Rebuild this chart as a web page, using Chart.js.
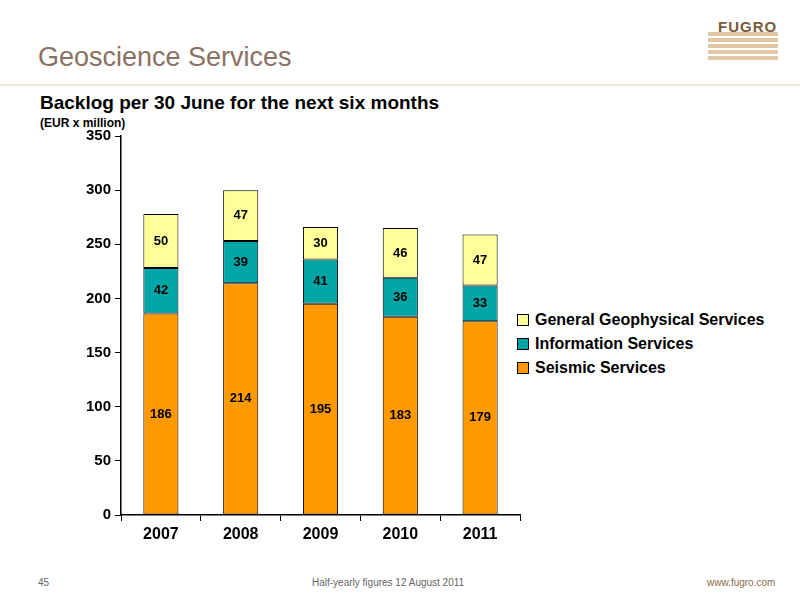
<!DOCTYPE html>
<html><head><meta charset="utf-8">
<script src="https://cdn.jsdelivr.net/npm/chart.js"></script>
<style>
body{margin:0;width:800px;height:600px;background:#fff;font-family:"Liberation Sans",Arial,sans-serif;position:relative;overflow:hidden}
.a{position:absolute;white-space:nowrap}
#c{position:absolute;left:0;top:0}
.lg{position:absolute;left:517px;font-weight:bold;font-size:16px;color:#000}
.lg span{display:inline-block;width:10px;height:10px;border:1px solid #000;margin-right:6px;vertical-align:-1px}
</style></head><body>
<div class="a" style="left:38px;top:42px;font-size:27px;color:#8a7262">Geoscience Services</div>
<div class="a" style="left:0;top:84px;width:800px;height:2px;background:#f1e8dc"></div>
<div class="a" style="left:708px;top:32px;width:70px;height:30px;background:repeating-linear-gradient(#e2c9a6 0 4px,#fff 4px 6px)"></div>
<div class="a" style="left:718px;top:18px;font-size:15px;font-weight:bold;color:#7a5a3a;letter-spacing:1px">FUGRO</div>
<div class="a" style="left:40px;top:92px;font-size:19px;font-weight:bold">Backlog per 30 June for the next six months</div>
<div class="a" style="left:40px;top:116px;font-size:12px;font-weight:bold">(EUR x million)</div>
<div class="lg" style="top:311px"><span style="background:#ffff99"></span>General Geophysical Services</div>
<div class="lg" style="top:335px"><span style="background:#00a6a6"></span>Information Services</div>
<div class="lg" style="top:359px"><span style="background:#ff9900"></span>Seismic Services</div>
<div class="a" style="left:38px;top:577px;font-size:10px;color:#666">45</div>
<div class="a" style="left:312px;top:577px;font-size:10px;color:#666">Half-yearly figures 12 August 2011</div>
<div class="a" style="left:707px;top:577px;font-size:10px;color:#8a6a4a">www.fugro.com</div>
<canvas id="c" width="800" height="600"></canvas>
<script>
const years=['2007','2008','2009','2010','2011'];
const seismic=[186,214,195,183,179];
const info=[42,39,41,36,33];
const general=[50,47,30,46,47];
const lbl={id:'lbl',afterDatasetsDraw(ch){const x=ch.ctx;x.save();x.font='bold 13px "Liberation Sans",Arial';x.fillStyle='#000';x.textAlign='center';x.textBaseline='middle';
ch.data.datasets.forEach((d,i)=>ch.getDatasetMeta(i).data.forEach((b,j)=>{x.fillText(d.data[j],b.x,(b.y+b.base)/2);}));x.restore();}};
const ds=(l,d,c)=>({label:l,data:d,backgroundColor:c,borderColor:'#000',borderWidth:1,borderSkipped:false,barPercentage:0.44,categoryPercentage:1});
new Chart(document.getElementById('c'),{type:'bar',
data:{labels:years,datasets:[ds('Seismic Services',seismic,'#ff9900'),ds('Information Services',info,'#00a6a6'),ds('General Geophysical Services',general,'#ffff99')]},
plugins:[lbl],
options:{responsive:false,animation:false,layout:{padding:{left:0,top:136,right:280,bottom:0}},
plugins:{legend:{display:false},tooltip:{enabled:false}},
scales:{x:{stacked:true,offset:true,afterFit:s=>{s.height=85},grid:{offset:true,drawOnChartArea:false,color:'#000',tickLength:6},border:{color:'#000',width:1.5},ticks:{color:'#000',font:{size:16,weight:'bold',family:'"Liberation Sans",Arial'},padding:4}},
y:{stacked:true,min:0,max:350,afterFit:s=>{s.width=121},grid:{drawOnChartArea:false,color:'#000',tickLength:6},border:{color:'#000',width:1.5},ticks:{stepSize:50,color:'#000',font:{size:15,weight:'bold',family:'"Liberation Sans",Arial'},padding:4}}}}});
</script></body></html>
